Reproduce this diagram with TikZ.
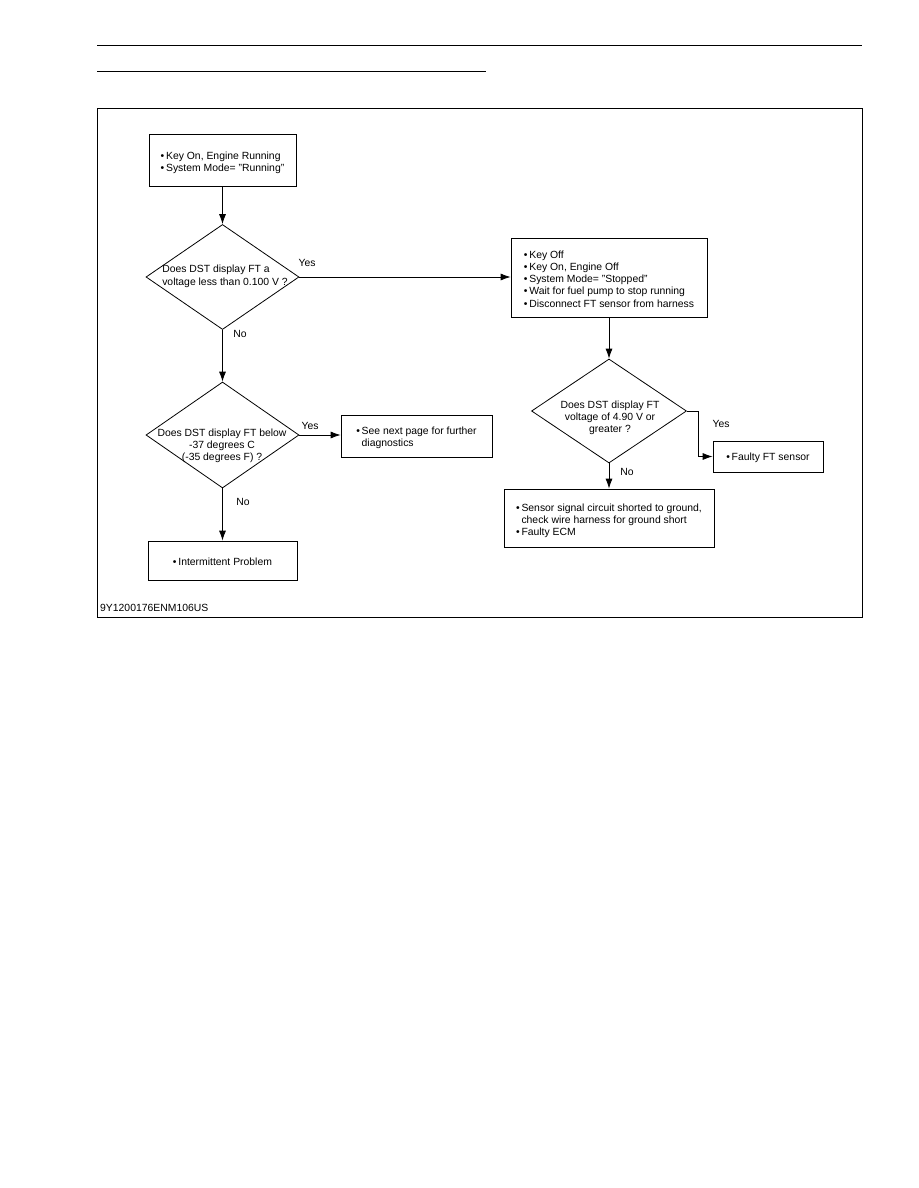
\documentclass[tikz,border=0pt]{standalone}
\usepackage{fontspec}
\setmainfont{Liberation Sans}
\usetikzlibrary{arrows.meta,shapes.geometric}
\newcommand{\bul}{•\,}
\newcommand{\bulsp}{\phantom{•}\,}
\begin{document}
\begin{tikzpicture}[x=1pt,y=-1pt,
  every node/.style={font=\fontsize{10.4}{12.2}\selectfont},
  box/.style={draw,line width=0.8pt,align=left,inner sep=0pt},
  dia/.style={draw,line width=0.8pt,diamond,inner sep=0pt},
  txt/.style={inner sep=0pt},
  arr/.style={line width=0.8pt,-{Latex[length=10pt,width=7pt]}}]
\useasboundingbox (0,0) rectangle (918,1188);
\draw[line width=1pt] (97,46) -- (862,46);
\draw[line width=1pt] (97,72) -- (486,72);
\draw[line width=0.8pt] (97,108) rectangle (862,617);

\node[box,minimum width=147,minimum height=52] (b1) at (222.5,160) {};
\node[txt,align=left] (t1b) at (222.5,163) {\bul Key On, Engine Running\\\bul System Mode= "Running"};
\node[dia,minimum width=153,minimum height=105] (d1) at (222.5,277) {};
\node[txt,align=left] (t1) at (225,276.5) {Does DST display FT a\\[1pt]voltage less than 0.100 V ?};

\node[box,minimum width=196,minimum height=79] (b2) at (609,277.5) {};
\node[txt,align=left] (t2b) at (609,279) {\bul Key Off\\\bul Key On, Engine Off\\\bul System Mode= "Stopped"\\\bul Wait for fuel pump to stop running\\\bul Disconnect FT sensor from harness};

\node[dia,minimum width=153,minimum height=106] (d2) at (222.5,435) {};
\node[txt,align=center] (t2) at (222,446) {Does DST display FT below\\-37 degrees C\\(-35 degrees F) ?};

\node[box,minimum width=151,minimum height=42] (b3) at (416.5,436) {};
\node[txt,align=left] (t3b) at (416.5,438) {\bul See next page for further\\\bulsp diagnostics};
\node[box,minimum width=149,minimum height=39] (b4) at (222.5,560.5) {};
\node[txt] (t4b) at (222.5,561.5) {\bul Intermittent Problem};

\node[dia,minimum width=155,minimum height=104] (d3) at (609,411) {};
\node[txt,align=center] (t3) at (610,418) {Does DST display FT\\voltage of 4.90 V or\\greater ?};

\node[box,minimum width=110,minimum height=31] (b5) at (768,456.5) {};
\node[txt] (t5b) at (768,457.5) {\bul Faulty FT sensor};
\node[box,minimum width=210,minimum height=58] (b6) at (609,518) {};
\node[txt,align=left] (t6b) at (609,521) {\bul Sensor signal circuit shorted to ground,\\\bulsp check wire harness for ground short\\\bul Faulty ECM};

\draw[arr] (b1.south) -- (d1.north);
\draw[arr] (d1.east) -- (d1.east -| b2.west);
\draw[arr] (d1.south) -- (d2.north);
\draw[arr] (d2.east) -- (d2.east -| b3.west);
\draw[arr] (d2.south) -- (b4.north);
\draw[arr] (b2.south) -- (d3.north);
\coordinate (k) at (698,411);
\draw[arr] (d3.east) -- (k) |- (b5.west);
\draw[arr] (d3.south) -- (b6.north);

\node[txt] (y1) at (307,263) {Yes};
\node[txt] (n1) at (240,334) {No};
\node[txt] (y2) at (310,426) {Yes};
\node[txt] (n2) at (243,502) {No};
\node[txt] (y3) at (721,424) {Yes};
\node[txt] (n3) at (627,472) {No};

\node[txt,anchor=west] (id) at (100,608) {9Y1200176ENM106US};
\end{tikzpicture}
\end{document}
